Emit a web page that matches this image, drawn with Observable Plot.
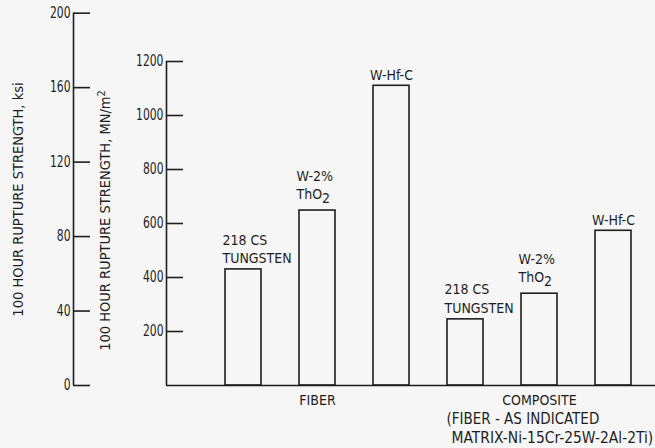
<!DOCTYPE html>
<html><head><meta charset="utf-8">
<script src="https://cdn.jsdelivr.net/npm/d3@7"></script>
<script src="https://cdn.jsdelivr.net/npm/@observablehq/plot@0.6"></script>
<style>
html,body{margin:0;padding:0;background:#f6f6f6;}
#chart{width:655px;height:448px;}
</style></head><body><div id="chart"></div>
<script>
// ---- data ----
const groups = ["FIBER", "COMPOSITE"];
const materials = ["218 CS\nTUNGSTEN", "W-2%\nThO₂", "W-Hf-C"];
const fiberValues = [430, 648, 1110];        // MN/m²
const compositeValues = [245, 340, 573];     // MN/m²
const mnTicks = [200, 400, 600, 800, 1000, 1200];
const ksiTicks = [0, 40, 80, 120, 160, 200];
const KSI_TO_MN = 6.895;
const ksiTitle = "100 HOUR RUPTURE STRENGTH, ksi";
const mnTitle = "100 HOUR RUPTURE STRENGTH, MN/m²";
const noteLines = ["(FIBER - AS INDICATED", "MATRIX-Ni-15Cr-25W-2Al-2Ti)"];

// ---- table ----
const rows = [];
groups.forEach((g, gi) => materials.forEach((m, mi) => rows.push({
  group: g, material: m, mi, key: g + "|" + mi,
  value: (gi === 0 ? fiberValues : compositeValues)[mi]
})));
const keys = rows.map(d => d.key);

const ink = "#1e1e1e";
const font = "'DejaVu Sans Condensed','DejaVu Sans',sans-serif";
const W = 655, ML = 166;
const centerX = (ML + W) / 2;
const half = 18; // half bar width (px) for label offsets

const plot = Plot.plot({
  width: W, height: 448,
  marginLeft: ML, marginRight: 0, marginTop: 61, marginBottom: 63,
  style: {background: "transparent", color: ink, fontSize: "14px", fontFamily: font, overflow: "visible"},
  x: {domain: keys, range: [208, 647], paddingInner: 0.52, paddingOuter: 0.2, axis: null},
  y: {domain: [0, 1200], axis: null},
  marks: [
    Plot.barY(rows, {x: "key", y: "value", fill: "#f6f6f6", stroke: ink, strokeWidth: 1.6}),
    Plot.ruleY([0], {stroke: ink, strokeWidth: 1.6}),
    // inner (MN/m²) axis
    Plot.ruleX([0], {x: null, y1: 0, y2: mnTicks[mnTicks.length - 1], dx: ML - centerX, stroke: ink, strokeWidth: 1.6}),
    Plot.ruleY(mnTicks, {y: d => d, insetRight: W - ML - 17, stroke: ink, strokeWidth: 1.6}),
    Plot.text(mnTicks, {y: d => d, text: d => String(d), frameAnchor: "left", textAnchor: "end", dx: -3, fontSize: 15, ariaDescription: "narrow"}),
    // outer (ksi) axis
    Plot.ruleX([0], {x: null, y1: 0, y2: ksiTicks[ksiTicks.length - 1] * KSI_TO_MN, dx: 73 - centerX, stroke: ink, strokeWidth: 1.6}),
    Plot.ruleY(ksiTicks, {y: d => d * KSI_TO_MN, insetLeft: 73 - ML, insetRight: W - 90, stroke: ink, strokeWidth: 1.6}),
    Plot.text(ksiTicks, {y: d => d * KSI_TO_MN, text: d => String(d), frameAnchor: "left", textAnchor: "end", dx: 70 - ML, fontSize: 15, ariaDescription: "narrow"}),
    // axis titles
    Plot.text([ksiTitle], {text: d => d, frameAnchor: "left", textAnchor: "middle", rotate: -90, dx: 18 - ML, dy: -24, fontSize: 14.5}),
    Plot.text([mnTitle], {text: d => d, frameAnchor: "left", textAnchor: "middle", rotate: -90, dx: 105 - ML, dy: -3, fontSize: 14.5}),
    // bar labels
    Plot.text(rows.filter(d => d.mi === 0), {x: "key", y: "value", text: "material", textAnchor: "start", lineAnchor: "bottom", dx: -half - 3, dy: -6, lineHeight: 1.35, fontSize: 14}),
    Plot.text(rows.filter(d => d.mi === 1), {x: "key", y: "value", text: "material", textAnchor: "start", lineAnchor: "bottom", dx: -half - 3, dy: -12, lineHeight: 1.25, fontSize: 14}),
    Plot.text(rows.filter(d => d.mi === 2), {x: "key", y: "value", text: "material", lineAnchor: "bottom", dy: -6, fontSize: 14}),
    // group labels
    Plot.text(groups, {x: (g) => g + "|1", text: d => d, frameAnchor: "bottom", dy: 19, fontSize: 14}),
    Plot.text([noteLines[0]], {x: () => groups[1] + "|0", text: d => d, frameAnchor: "bottom", textAnchor: "start", dx: -half - 1, dy: 38, fontSize: 15}),
    Plot.text([noteLines[1]], {x: () => groups[1] + "|0", text: d => d, frameAnchor: "bottom", textAnchor: "start", dx: -half + 4, dy: 57, fontSize: 15, ariaDescription: "wide"})
  ]
});

// typographic touches: narrower tick digits, real sub/superscript "2"
const svg = d3.select(plot);
function stretch(sel, k) {
  svg.selectAll(sel).each(function () {
    const t = this.getAttribute("transform");
    if (t) this.setAttribute("transform", t + ` scale(${k},1)`);
    else {
      const x = +this.getAttribute("x") || 0, y = +this.getAttribute("y") || 0;
      this.removeAttribute("x"); this.removeAttribute("y");
      this.setAttribute("transform", `translate(${x},${y}) scale(${k},1)`);
    }
  });
}
stretch('g[aria-description="narrow"] text', 0.8);
stretch('g[aria-description="wide"] text', 1.03);
svg.selectAll("text, tspan").each(function () {
  if (this.childElementCount) return;
  const s = this.textContent;
  const m = s.match(/[₂²]/);
  if (!m) return;
  const sub = m[0] === "₂";
  const [a, b] = s.split(m[0]);
  const el = d3.select(this);
  el.text(a);
  el.append("tspan").attr("dy", sub ? "0.3em" : "-0.45em").attr("font-size", sub ? "1em" : "0.75em").text("2");
  if (b) el.append("tspan").attr("dy", sub ? "-0.3em" : "0.45em").text(b);
});
document.getElementById("chart").appendChild(plot);
</script>
</body></html>
